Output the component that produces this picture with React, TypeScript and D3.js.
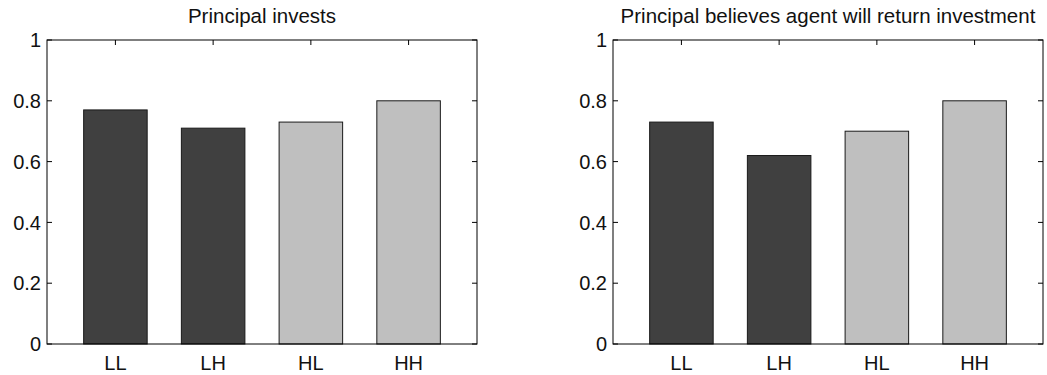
import { useEffect, useRef } from 'react';
import * as d3 from 'd3';

const categories = ['LL', 'LH', 'HL', 'HH'];
const investValues = [0.77, 0.71, 0.73, 0.8];
const believeValues = [0.73, 0.62, 0.7, 0.8];
const barColors = ['#404040', '#404040', '#bfbfbf', '#bfbfbf'];
const yTicks = [0, 0.2, 0.4, 0.6, 0.8, 1];

const PANELS = [
  { title: 'Principal invests', values: investValues, left: 47, right: 477 },
  { title: 'Principal believes agent will return investment', values: believeValues, left: 613, right: 1043 },
];

export default function App() {
  const svgRef = useRef(null);

  useEffect(() => {
    const svg = d3.select(svgRef.current);
    svg.selectAll('*').remove();
    const top = 40;
    const bottom = 344;
    const font = 'Liberation Sans, Arial, Helvetica, sans-serif';
    const fs = 20;

    PANELS.forEach((p) => {
      const g = svg.append('g');
      const x = d3.scaleLinear().domain([0.3, 4.7]).range([p.left, p.right]);
      const y = d3.scaleLinear().domain([0, 1]).range([bottom, top]);
      const bw = x(1.65) - x(1);

      g.selectAll('rect.bar')
        .data(p.values)
        .join('rect')
        .attr('class', 'bar')
        .attr('x', (d, i) => x(i + 1) - bw / 2)
        .attr('y', (d) => y(d))
        .attr('width', bw)
        .attr('height', (d) => y(0) - y(d))
        .attr('fill', (d, i) => barColors[i])
        .attr('stroke', '#1a1a1a')
        .attr('stroke-width', 1);

      // axes box
      g.append('rect')
        .attr('x', p.left)
        .attr('y', top)
        .attr('width', p.right - p.left)
        .attr('height', bottom - top)
        .attr('fill', 'none')
        .attr('stroke', '#000')
        .attr('stroke-width', 1);

      const tl = 5;
      // y ticks (inside, both sides)
      yTicks.forEach((t) => {
        g.append('line').attr('x1', p.left).attr('x2', p.left + tl).attr('y1', y(t)).attr('y2', y(t)).attr('stroke', '#000');
        g.append('line').attr('x1', p.right).attr('x2', p.right - tl).attr('y1', y(t)).attr('y2', y(t)).attr('stroke', '#000');
        g.append('text')
          .attr('x', p.left - 6)
          .attr('y', y(t))
          .attr('dy', '0.36em')
          .attr('text-anchor', 'end')
          .attr('font-family', font)
          .attr('font-size', fs)
          .attr('fill', '#111')
          .text(d3.format('~g')(t));
      });

      // x ticks (inside, top)
      categories.forEach((c, i) => {
        g.append('line').attr('x1', x(i + 1)).attr('x2', x(i + 1)).attr('y1', top).attr('y2', top + tl).attr('stroke', '#000');
        g.append('text')
          .attr('x', x(i + 1))
          .attr('y', 370)
          .attr('text-anchor', 'middle')
          .attr('font-family', font)
          .attr('font-size', fs)
          .attr('fill', '#111')
          .text(c);
      });

      g.append('text')
        .attr('x', (p.left + p.right) / 2)
        .attr('y', 23)
        .attr('text-anchor', 'middle')
        .attr('font-family', font)
        .attr('font-size', 20.5)
        .attr('fill', '#111')
        .text(p.title);
    });
  }, []);

  return (
    <div style={{ position: 'fixed', left: 0, top: 0 }}>
      <svg ref={svgRef} width={1047} height={375} style={{ display: 'block', background: '#fff' }} />
    </div>
  );
}
